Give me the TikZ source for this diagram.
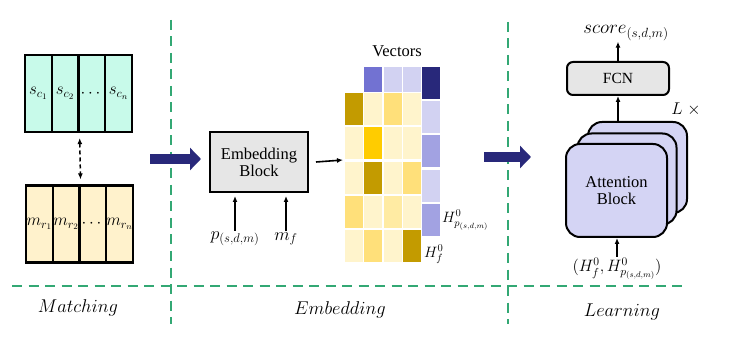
\RequirePackage{fix-cm}
\documentclass[tikz,border=0pt]{standalone}
\usepackage{fontspec}
\setmainfont{Liberation Serif}
\usepackage{amsmath}
\usetikzlibrary{arrows.meta,positioning}

\definecolor{cyanfond}{HTML}{C8FAEA}
\definecolor{jaunefond}{HTML}{FFF2CC}
\definecolor{vertpt}{HTML}{33A874}
\definecolor{marine}{HTML}{28287A}
\definecolor{grisbloc}{HTML}{E6E6E6}
\definecolor{lavande}{HTML}{D4D4F4}
\definecolor{or1}{HTML}{FFF4CC}
\definecolor{or2}{HTML}{FFE07A}
\definecolor{or3}{HTML}{FFCC00}
\definecolor{or4}{HTML}{C39B00}
\definecolor{or5}{HTML}{FFEBA3}
\definecolor{vi1}{HTML}{D2D2F2}
\definecolor{vi2}{HTML}{A2A2E2}
\definecolor{vi3}{HTML}{7272D2}

\tikzset{
  colonne/.style={draw,line width=2.2pt,minimum width=26.75pt,minimum height=77pt,inner sep=0pt,
    font=\fontsize{17}{19}\selectfont},
  separation/.style={draw=vertpt,line width=2.4pt,dash pattern=on 10pt off 6.5pt},
  grossefleche/.style={marine,line width=10pt,-{Triangle[length=11pt,width=22pt]}},
  fleche/.style={line width=1.6pt,-{Latex[length=6pt,width=5pt]}},
  bloc/.style={draw,line width=2pt,fill=grisbloc,align=center,font=\fontsize{16.5}{19}\selectfont},
  attn/.style={draw,line width=2pt,fill=lavande,rounded corners=14pt,minimum width=100pt,minimum height=92pt},
  phase/.style={font=\fontsize{18.5}{20}\selectfont},
  etiq/.style={font=\fontsize{18}{20}\selectfont,inner sep=1pt}
}

\begin{document}
\begin{tikzpicture}[x=1pt,y=-1pt]
\useasboundingbox[fill=white] (0,0) rectangle (733,347);
% Lignes de separation des trois phases
\draw[separation] (12,286) -- (688,286);
\draw[separation] (171,20) -- (171,324);
\draw[separation] (508,22) -- (508,324);
\node[phase] (matching) at (78,308) {$Matching$};
\node[phase] (embedding) at (340,310) {$Embedding$};
\node[phase] (learning) at (622,312) {$Learning$};

% Phase de matching : les deux rangees de cellules
\foreach \lab [count=\i] in {s_{c_1},s_{c_2},\cdots,s_{c_n}}
  \node[colonne,fill=cyanfond] (c\i) at ({25+26.75*(\i-.5)},93.5) {$\lab$};
\foreach \lab [count=\i] in {m_{r_1},m_{r_2},\cdots,m_{r_n}}
  \node[colonne,fill=jaunefond] (m\i) at ({26+26.75*(\i-.5)},224) {$\lab$};
\draw[dash pattern=on 4pt off 3pt,line width=1.5pt,{Latex[length=6pt,width=5pt]}-{Latex[length=6pt,width=5pt]},
  shorten <=5pt,shorten >=5pt] (c2.south east) -- (m2.north east);

% Premiere grosse fleche
\coordinate (f1a) at (150,159);
\coordinate (f1b) at (201,159);
\draw[grossefleche] (f1a) -- (f1b);

% Bloc d'embedding et ses entrees
\node[bloc,minimum width=98pt,minimum height=60pt] (emb) at (259,162) {Embedding\\[-2pt]Block};
\node[etiq] (p) at (235,239) {$p_{(s,d,m)}$};
\node[etiq] (mf) at (286,239) {$m_f$};
\draw[fleche] (p.north) -- ([yshift=-3pt]p.north |- emb.south);
\draw[fleche] (mf.north) -- ([yshift=-3pt]mf.north |- emb.south);
\coordinate (grille) at (343,160);
\draw[fleche] ([xshift=7pt]emb.east) -- (grille);

% Vecteurs : grille jaune et colonne violette
\node[font=\fontsize{16.5}{18}\selectfont] (vect) at (397,51) {Vectors};
\foreach \couleurs [count=\j from 0] in {{or4,or1,or2,or1},{or1,or3,or1,or1},{or1,or4,or1,or2},{or2,or1,or5,or1},{or1,or2,or1,or4}}
  \foreach \c [count=\i from 0] in \couleurs
    \fill[\c] ({345+19.3*\i},{93+34.3*\j}) rectangle ++(18,32);
\foreach \c [count=\i from 1] in {vi3,vi1,vi1}
  \fill[\c] ({345+19.3*\i},67) rectangle ++(18,25);
\foreach \c [count=\j from 0] in {marine,vi1,vi2,vi1,vi2}
  \fill[\c] (422,{67+34.2*\j}) rectangle ++(18,32);
\node[etiq,anchor=west,font=\fontsize{15}{17}\selectfont] (hp) at (441,220) {$H^0_{p_{(s,d,m)}}$};
\node[etiq,anchor=west,font=\fontsize{15}{17}\selectfont] (hf) at (423,254) {$H^0_f$};

% Deuxieme grosse fleche
\coordinate (f2a) at (484,157);
\coordinate (f2b) at (531,157);
\draw[grossefleche] (f2a) -- (f2b);

% Phase d'apprentissage : pile de blocs d'attention et FCN
\node[attn,minimum width=99pt,minimum height=91pt] (att3) at (637.5,167.5) {};
\node[attn,minimum width=99pt,minimum height=91pt] (att2) at (627,179) {};
\node[attn,minimum width=101pt,minimum height=93pt,align=center,font=\fontsize{16.5}{19}\selectfont] (att1) at (616.5,190.5) {Attention\\[-2pt]Block};
\node[font=\fontsize{17}{19}\selectfont] (L) at (686,109) {$L\;\times$};
\node[bloc,rounded corners=6pt,minimum width=102pt,minimum height=33pt,font=\fontsize{15.5}{17}\selectfont] (fcn) at (618,78.5) {FCN};
\node[etiq,font=\fontsize{19}{21}\selectfont] (score) at (626,33) {$score_{(s,d,m)}$};
\node[etiq,font=\fontsize{16.5}{18}\selectfont] (entree) at (617,269) {$(H^0_f,H^0_{p_{(s,d,m)}})$};
\draw[fleche] (fcn.north) -- (fcn.north |- score.south);
\draw[fleche] (fcn.south |- att3.north) -- (fcn.south);
\draw[fleche] (entree.north) -- (entree.north |- att1.south);
\end{tikzpicture}
\end{document}
